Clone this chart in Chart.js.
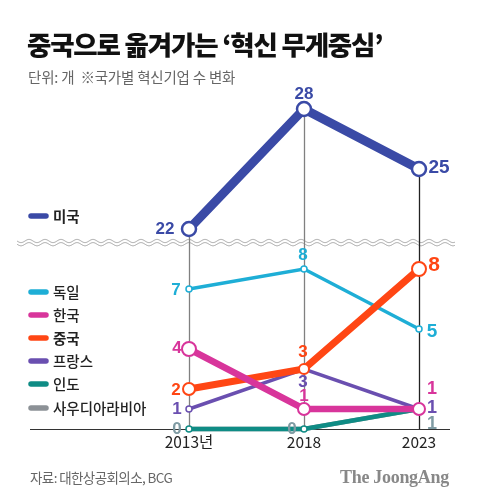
<!DOCTYPE html>
<html><head><meta charset="utf-8">
<script src="https://cdn.jsdelivr.net/npm/chart.js@4/dist/chart.umd.min.js"></script>
<style>
html,body{margin:0;padding:0;background:#fff;width:480px;height:503px;overflow:hidden;}
#wrap{position:relative;width:480px;height:503px;}
canvas{position:absolute;left:0;top:0;}
.t{position:absolute;white-space:nowrap;font-family:"Noto Sans CJK KR","Noto Sans",sans-serif;}
#title{left:27px;top:24px;font-size:26.5px;font-weight:900;letter-spacing:-1.2px;color:#111;line-height:40px;}
#sub{left:28px;top:67px;font-size:14.5px;color:#666;line-height:20px;letter-spacing:-0.2px;}
#src{left:30px;top:467px;font-size:13.5px;color:#666;line-height:20px;letter-spacing:-0.6px;}
#logo{left:340px;top:465px;font-family:"Liberation Serif","DejaVu Serif",serif;font-weight:bold;font-size:18px;color:#888;line-height:24px;letter-spacing:-0.3px;}
</style></head>
<body><div id="wrap">
<canvas id="c" width="480" height="503"></canvas>
<div class="t" id="title">중국으로 옮겨가는 ‘혁신 무게중심’</div>
<div class="t" id="sub">단위: 개 &nbsp;※국가별 혁신기업 수 변화</div>
<div class="t" id="src">자료: 대한상공회의소, BCG</div>
<div class="t" id="logo">The JoongAng</div>
</div>
<script>
// ---- data ----
const years = [2013, 2018, 2023];
const tickLabels = ['2013년', '2018', '2023'];
const seriesNames = ['미국', '독일', '한국', '중국', '프랑스', '인도', '사우디아라비아'];
const usValues = [22, 28, 25];
const germanyValues = [7, 8, 5];
const koreaValues = [4, 1, 1];
const chinaValues = [2, 3, 8];
const franceValues = [1, 3, 1];
const indiaValues = [0, 0, 1];
const saudiValues = [0, 0, 1];

const seriesValues = [usValues, germanyValues, koreaValues, chinaValues, franceValues, indiaValues, saudiValues];

// ---- styles ----
const styles = [
  {color:'#3a4aa6', width:9,   radius:[7,7,7], bw:2.5, order:0, axis:'y2', label:true, lc:'#3a4aa6',
   off:[[-24,0],[0,-15],[20,-1]], fs:[17,17,19], legendBold:true},
  {color:'#1eaed6', width:3.5, radius:[3,3,3], bw:1.5, order:3, axis:'y', label:true, lc:'#1eaed6',
   off:[[-13,1],[-1,-14],[13,3]], fs:[17,17,19]},
  {color:'#d8359b', width:6.5, radius:[7,6,6], bw:2, order:1, axis:'y', label:true, lc:'#d8359b',
   off:[[-12,-1],[0,-13],[13,-20]], fs:[17,17,18]},
  {color:'#ff4614', width:7,   radius:[6,5,7], bw:2, order:2, axis:'y', label:true, lc:'#ff4614',
   off:[[-13,1],[-1,-17],[15,-4]], fs:[17,17,21], legendBold:true},
  {color:'#6a4fb0', width:3.5, radius:[3,3,3], bw:1.5, order:4, axis:'y', label:true, lc:'#6a4fb0',
   off:[[-12,0],[-1,13],[13,-1]], fs:[17,17,18]},
  {color:'#0f8c85', width:4.5, radius:[3,3,0], bw:1.5, order:5, axis:'y', label:false},
  {color:'#8c9196', width:4.5, radius:[0,0,0], bw:1.5, order:6, axis:'y', label:true, lc:'#7f9ba3',
   off:[[-12,0],[-12,0],[13,15]], fs:[17,17,18]}
];
const legendY = [216, 292, 315, 338, 361, 384, 408];

const datasets = seriesValues.map((vals, i) => {
  const s = styles[i];
  return {
    label: seriesNames[i],
    data: vals.map((v, j) => ({x: years[j], y: v})),
    borderColor: s.color,
    backgroundColor: '#fff',
    borderWidth: s.width,
    pointRadius: s.radius,
    pointBorderWidth: s.bw,
    pointBorderColor: s.color,
    pointBackgroundColor: '#fff',
    order: s.order,
    yAxisID: s.axis,
    clip: false,
    tension: 0
  };
});

const decoPlugin = {
  id: 'deco',
  beforeDatasetsDraw(chart) {
    const ctx = chart.ctx;
    const x = chart.scales.x, y = chart.scales.y;
    const base = y.getPixelForValue(0);
    const usMeta = chart.getDatasetMeta(0);
    ctx.save();
    // wavy break
    const by = y.getPixelForValue(9.32);
    ctx.strokeStyle = '#a0a0a0';
    ctx.lineWidth = 1;
    [-1.6, 1.6].forEach(o => {
      ctx.beginPath();
      for (let px = 17; px <= 455; px += 0.5) {
        const py = by + o + 1.6 * Math.sin((px - 17) * 2 * Math.PI / 16);
        if (px === 17) ctx.moveTo(px, py); else ctx.lineTo(px, py);
      }
      ctx.stroke();
    });
    // vertical guide lines
    const vcol = ['#808080', '#808080', '#222'];
    years.forEach((yr, j) => {
      const px = Math.round(x.getPixelForValue(yr)) + 0.5;
      ctx.strokeStyle = vcol[j];
      ctx.lineWidth = 1.3;
      ctx.beginPath();
      ctx.moveTo(px, usMeta.data[j].y);
      ctx.lineTo(px, base);
      ctx.stroke();
    });
    // baseline
    ctx.strokeStyle = '#333';
    ctx.lineWidth = 1;
    ctx.beginPath();
    ctx.moveTo(30, Math.round(base) + 0.5);
    ctx.lineTo(450, Math.round(base) + 0.5);
    ctx.stroke();
    // tick labels
    ctx.fillStyle = '#222';
    ctx.font = '15.5px "Noto Sans CJK KR", "Liberation Sans", sans-serif';
    ctx.textAlign = 'center';
    ctx.textBaseline = 'middle';
    years.forEach((yr, j) => {
      ctx.fillText(tickLabels[j], x.getPixelForValue(yr), base + 13);
    });
    ctx.restore();
  },
  afterDatasetsDraw(chart) {
    const ctx = chart.ctx;
    ctx.save();
    ctx.textAlign = 'center';
    ctx.textBaseline = 'middle';
    // value labels
    seriesValues.forEach((vals, i) => {
      const s = styles[i];
      if (!s.label) return;
      const meta = chart.getDatasetMeta(i);
      ctx.fillStyle = s.lc;
      vals.forEach((v, j) => {
        const p = meta.data[j];
        ctx.font = 'bold ' + s.fs[j] + 'px "Liberation Sans", Arial, sans-serif';
        ctx.fillText(String(v), p.x + s.off[j][0], p.y + s.off[j][1]);
      });
    });
    // legend
    seriesNames.forEach((name, i) => {
      const s = styles[i];
      const ly = legendY[i];
      ctx.strokeStyle = s.color;
      ctx.lineWidth = 5.5;
      ctx.lineCap = 'round';
      ctx.beginPath();
      ctx.moveTo(31, ly);
      ctx.lineTo(46, ly);
      ctx.stroke();
      ctx.fillStyle = '#222';
      ctx.textAlign = 'left';
      ctx.font = (s.legendBold ? 'bold ' : '500 ') + '14.5px "Noto Sans CJK KR", sans-serif';
      ctx.fillText(name, 53, ly + 0.5);
    });
    ctx.restore();
  }
};

new Chart(document.getElementById('c'), {
  type: 'line',
  data: { datasets },
  options: {
    responsive: false,
    devicePixelRatio: 1,
    animation: false,
    layout: { padding: { left: 189, right: 61, top: 109, bottom: 74 } },
    plugins: { legend: { display: false }, tooltip: { enabled: false } },
    scales: {
      x: { type: 'linear', min: 2013, max: 2023, display: false },
      y: { type: 'linear', min: 0, max: 16, display: false },
      y2: { type: 'linear', min: 12, max: 28, display: false }
    }
  },
  plugins: [decoPlugin]
});
</script>
</body></html>
